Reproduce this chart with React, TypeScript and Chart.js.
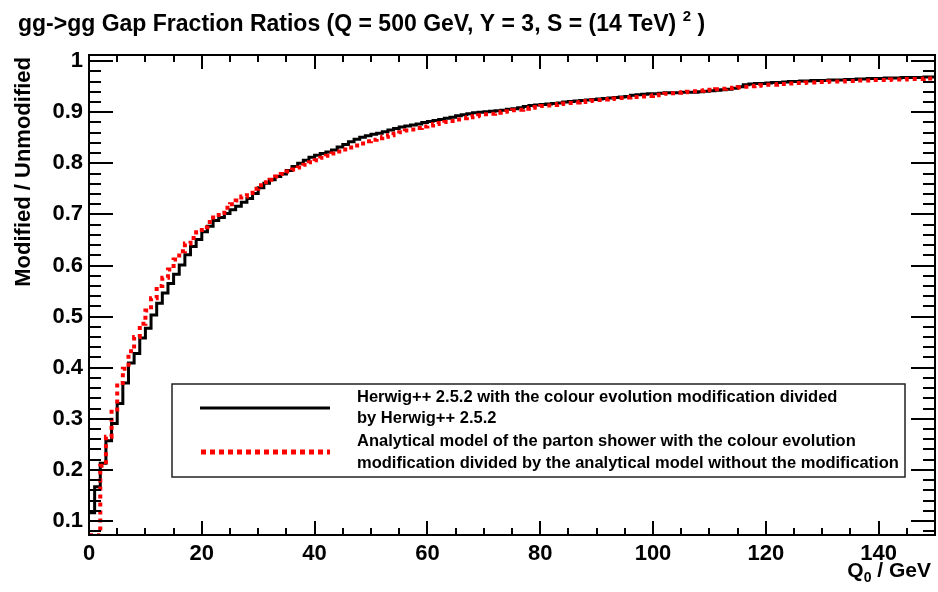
import React, { useEffect, useRef } from "react";
import { Chart, registerables } from "chart.js";

Chart.register(...registerables);

// ---- data (1 GeV bins from Q0 = 0 to 150) ----
const herwigRatio = [
  0.116, 0.167, 0.213, 0.257, 0.291, 0.330, 0.370, 0.409, 0.428, 0.458,
  0.477, 0.503, 0.526, 0.546, 0.565, 0.583, 0.601, 0.621, 0.637, 0.651,
  0.666, 0.677, 0.688, 0.694, 0.702, 0.709, 0.716, 0.724, 0.731, 0.741,
  0.752, 0.761, 0.768, 0.774, 0.779, 0.786, 0.794, 0.800, 0.806, 0.812,
  0.816, 0.819, 0.822, 0.826, 0.832, 0.837, 0.842, 0.847, 0.851, 0.854,
  0.857, 0.859, 0.862, 0.865, 0.868, 0.871, 0.873, 0.875, 0.877, 0.880,
  0.882, 0.884, 0.886, 0.888, 0.890, 0.893, 0.895, 0.897, 0.899, 0.900,
  0.901, 0.902, 0.903, 0.904, 0.906, 0.907, 0.909, 0.911, 0.913, 0.914,
  0.915, 0.916, 0.917, 0.918, 0.920, 0.921, 0.922, 0.923, 0.924, 0.925,
  0.926, 0.927, 0.928, 0.929, 0.930, 0.931, 0.933, 0.934, 0.935, 0.936,
  0.936, 0.937, 0.938, 0.938, 0.938, 0.939, 0.939, 0.939, 0.940, 0.941,
  0.942, 0.943, 0.944, 0.945, 0.947, 0.950, 0.954, 0.955, 0.956, 0.956,
  0.957, 0.958, 0.958, 0.959, 0.960, 0.960, 0.961, 0.961, 0.962, 0.962,
  0.962, 0.963, 0.963, 0.963, 0.964, 0.964, 0.965, 0.965, 0.966, 0.966,
  0.966, 0.967, 0.967, 0.967, 0.968, 0.968, 0.968, 0.968, 0.969, 0.969,
];

const analyticRatio = [
  0.072, 0.072, 0.208, 0.265, 0.318, 0.370, 0.398, 0.432, 0.460, 0.486,
  0.512, 0.536, 0.560, 0.576, 0.592, 0.612, 0.628, 0.643, 0.654, 0.665,
  0.675, 0.685, 0.694, 0.703, 0.713, 0.720, 0.727, 0.735, 0.742, 0.750,
  0.757, 0.763, 0.768, 0.774, 0.779, 0.784, 0.788, 0.792, 0.797, 0.802,
  0.806, 0.811, 0.815, 0.819, 0.823, 0.827, 0.831, 0.835, 0.839, 0.843,
  0.846, 0.849, 0.852, 0.855, 0.858, 0.861, 0.864, 0.866, 0.869, 0.872,
  0.874, 0.877, 0.879, 0.881, 0.883, 0.886, 0.888, 0.890, 0.892, 0.894,
  0.896, 0.897, 0.899, 0.901, 0.902, 0.904, 0.905, 0.907, 0.909, 0.910,
  0.912, 0.913, 0.914, 0.916, 0.917, 0.918, 0.919, 0.920, 0.922, 0.923,
  0.924, 0.925, 0.926, 0.927, 0.928, 0.929, 0.930, 0.930, 0.931, 0.932,
  0.933, 0.934, 0.936, 0.937, 0.938, 0.939, 0.940, 0.941, 0.942, 0.943,
  0.944, 0.945, 0.946, 0.947, 0.948, 0.949, 0.950, 0.951, 0.952, 0.953,
  0.954, 0.954, 0.955, 0.955, 0.956, 0.957, 0.957, 0.958, 0.958, 0.959,
  0.959, 0.960, 0.960, 0.960, 0.961, 0.961, 0.962, 0.962, 0.962, 0.963,
  0.963, 0.963, 0.964, 0.964, 0.964, 0.965, 0.965, 0.965, 0.966, 0.966,
];

const xTickValues = [0, 20, 40, 60, 80, 100, 120, 140];
const xTickLabels = ["0", "20", "40", "60", "80", "100", "120", "140"];
const yTickValues = [0.1, 0.2, 0.3, 0.4, 0.5, 0.6, 0.7, 0.8, 0.9, 1.0];
const yTickLabels = ["0.1", "0.2", "0.3", "0.4", "0.5", "0.6", "0.7", "0.8", "0.9", "1"];

const titleMain = "gg->gg Gap Fraction Ratios (Q = 500 GeV, Y = 3, S = (14 TeV)";
const titleSup = "2";
const titleEnd = ")";
const xTitleMain = "Q";
const xTitleSub = "0";
const xTitleRest = " / GeV";
const yTitle = "Modified / Unmodified";
const legendHerwig = [
  "Herwig++ 2.5.2 with the colour evolution modification divided",
  "by Herwig++ 2.5.2",
];
const legendAnalytic = [
  "Analytical model of the parton shower with the colour evolution",
  "modification divided by the analytical model without the modification",
];

const FONT = '"Liberation Sans", Arial, Helvetica, sans-serif';

function toSteps(values: number[]) {
  const pts = values.map((v, i) => ({ x: i, y: v }));
  pts.push({ x: values.length, y: values[values.length - 1] });
  return pts;
}

const decorPlugin = {
  id: "rootDecor",
  afterDatasetsDraw(chart: any) {
    const ctx = chart.ctx as CanvasRenderingContext2D;
    const area = chart.chartArea;
    const xs = chart.scales.x;
    const ys = chart.scales.y;
    ctx.save();
    ctx.strokeStyle = "#000";
    ctx.lineWidth = 2;
    ctx.lineCap = "butt";

    // ticks
    const xMajorLen = 14, xMinorLen = 7, yMajorLen = 24, yMinorLen = 12;
    ctx.beginPath();
    for (let k = 0; k <= 30; k++) {
      const v = k * 5;
      const px = Math.round(xs.getPixelForValue(v));
      const len = v % 20 === 0 ? xMajorLen : xMinorLen;
      ctx.moveTo(px, area.bottom);
      ctx.lineTo(px, area.bottom - len);
      ctx.moveTo(px, area.top);
      ctx.lineTo(px, area.top + len);
    }
    for (let k = 4; k <= 50; k++) {
      const v = k * 0.02;
      if (v < ys.min || v > ys.max) continue;
      const py = Math.round(ys.getPixelForValue(v));
      const len = k % 5 === 0 ? yMajorLen : yMinorLen;
      ctx.moveTo(area.left, py);
      ctx.lineTo(area.left + len, py);
      ctx.moveTo(area.right, py);
      ctx.lineTo(area.right - len, py);
    }
    ctx.stroke();

    // frame
    ctx.strokeRect(area.left, area.top, area.right - area.left, area.bottom - area.top);

    // title
    ctx.fillStyle = "#000";
    ctx.textBaseline = "alphabetic";
    ctx.textAlign = "left";
    ctx.font = `bold 23px ${FONT}`;
    let tx = 18;
    const ty = 31;
    ctx.fillText(titleMain, tx, ty);
    tx += ctx.measureText(titleMain + " ").width;
    ctx.font = `bold 15px ${FONT}`;
    ctx.fillText(titleSup, tx, ty - 10);
    tx += ctx.measureText(titleSup).width;
    ctx.font = `bold 23px ${FONT}`;
    tx += ctx.measureText(" ").width;
    ctx.fillText(titleEnd, tx, ty);

    // x title (right aligned)
    ctx.font = `bold 21px ${FONT}`;
    const wQ = ctx.measureText(xTitleMain).width;
    const wRest = ctx.measureText(xTitleRest).width;
    ctx.font = `bold 14px ${FONT}`;
    const wSub = ctx.measureText(xTitleSub).width;
    const xEnd = area.right - 4;
    const xb = 577;
    let qx = xEnd - wRest - wSub - wQ;
    ctx.font = `bold 21px ${FONT}`;
    ctx.fillText(xTitleMain, qx, xb);
    qx += wQ;
    ctx.font = `bold 14px ${FONT}`;
    ctx.fillText(xTitleSub, qx, xb + 5);
    qx += wSub;
    ctx.font = `bold 21px ${FONT}`;
    ctx.fillText(xTitleRest, qx, xb);

    // y title (rotated, aligned to top)
    ctx.save();
    ctx.translate(30, area.top + 2);
    ctx.rotate(-Math.PI / 2);
    ctx.textAlign = "right";
    ctx.font = `bold 22px ${FONT}`;
    ctx.fillText(yTitle, 0, 0);
    ctx.restore();

    // legend
    const lx = 172, ly = 384, lw = 733, lh = 93;
    ctx.fillStyle = "#fff";
    ctx.fillRect(lx, ly, lw, lh);
    ctx.lineWidth = 1.5;
    ctx.strokeStyle = "#222";
    ctx.strokeRect(lx, ly, lw, lh);

    ctx.beginPath();
    ctx.strokeStyle = "#000";
    ctx.lineWidth = 3;
    ctx.moveTo(200, 408);
    ctx.lineTo(330, 408);
    ctx.stroke();

    ctx.beginPath();
    ctx.strokeStyle = "#ff0000";
    ctx.lineWidth = 5;
    ctx.setLineDash([5, 4]);
    ctx.moveTo(201, 452);
    ctx.lineTo(330, 452);
    ctx.stroke();
    ctx.setLineDash([]);

    ctx.fillStyle = "#000";
    ctx.textAlign = "left";
    ctx.textBaseline = "middle";
    ctx.font = `bold 16.5px ${FONT}`;
    ctx.fillText(legendHerwig[0], 357, 397);
    ctx.fillText(legendHerwig[1], 357, 418);
    ctx.fillText(legendAnalytic[0], 357, 441);
    ctx.fillText(legendAnalytic[1], 357, 463);

    ctx.restore();
  },
};

export default function App() {
  const canvasRef = useRef<HTMLCanvasElement | null>(null);

  useEffect(() => {
    if (!canvasRef.current) return;
    const tickFont = { family: FONT, size: 22, weight: "bold" as const };
    const chart = new Chart(canvasRef.current, {
      type: "line",
      data: {
        datasets: [
          {
            label: "Herwig",
            data: toSteps(herwigRatio),
            borderColor: "#000000",
            borderWidth: 3,
            stepped: "before",
            pointRadius: 0,
            fill: false,
            order: 1,
          },
          {
            label: "Analytical",
            data: toSteps(analyticRatio),
            borderColor: "#ff0000",
            borderWidth: 4,
            borderDash: [4, 4],
            stepped: "before",
            pointRadius: 0,
            fill: false,
            order: 0,
          },
        ],
      },
      options: {
        animation: false,
        responsive: false,
        devicePixelRatio: 1,
        layout: { padding: { top: 55, right: 3, left: 0, bottom: 0 } },
        plugins: {
          legend: { display: false },
          title: { display: false },
          tooltip: { enabled: false },
        },
        scales: {
          x: {
            type: "linear",
            min: 0,
            max: 150,
            afterBuildTicks: (s: any) => {
              s.ticks = xTickValues.map((v) => ({ value: v }));
            },
            afterFit: (s: any) => {
              s.height = 57;
            },
            ticks: {
              color: "#000",
              font: tickFont,
              padding: 6,
              maxRotation: 0,
              autoSkip: false,
              callback: (_v: any, i: number) => xTickLabels[i],
            },
            grid: { display: false, drawTicks: false },
            border: { display: false },
          },
          y: {
            type: "linear",
            min: 0.0726,
            max: 1.012,
            afterBuildTicks: (s: any) => {
              s.ticks = yTickValues.map((v) => ({ value: v }));
            },
            afterFit: (s: any) => {
              s.width = 89;
            },
            ticks: {
              color: "#000",
              font: tickFont,
              padding: 6,
              autoSkip: false,
              callback: (_v: any, i: number) => yTickLabels[i],
            },
            grid: { display: false, drawTicks: false },
            border: { display: false },
          },
        },
      },
      plugins: [decorPlugin],
    });
    return () => chart.destroy();
  }, []);

  return (
    <div style={{ position: "fixed", left: 0, top: 0, width: 938, height: 592, background: "#fff" }}>
      <canvas ref={canvasRef} width={938} height={592} style={{ display: "block" }} />
    </div>
  );
}
